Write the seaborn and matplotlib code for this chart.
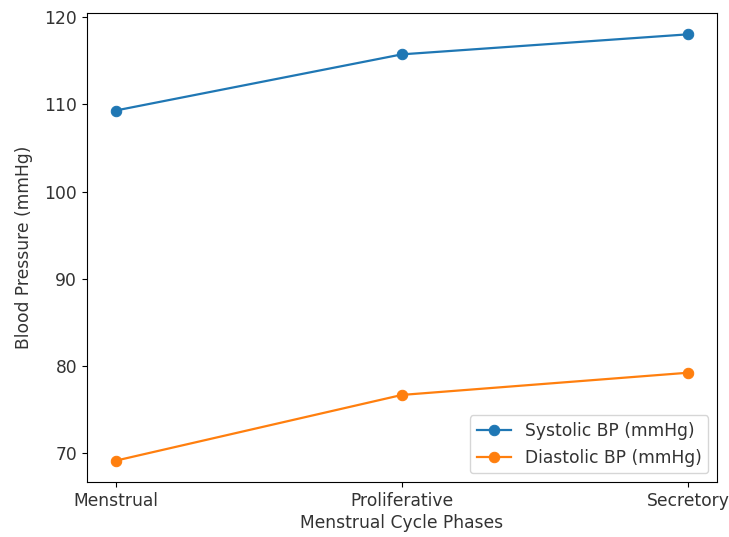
import numpy as np
import pandas as pd
import matplotlib
matplotlib.use("Agg")
import matplotlib.pyplot as plt
import seaborn as sns

# blood pressure across cycle phases
phases = ["Menstrual", "Proliferative", "Secretory"]
systolic = [109.3, 115.75, 118.05]
diastolic = [69.1, 76.65, 79.2]

df = pd.DataFrame({"Phase": phases, "Systolic BP (mmHg)": systolic, "Diastolic BP (mmHg)": diastolic})
long = df.melt(id_vars="Phase", var_name="Measure", value_name="BP")

fig = plt.figure(figsize=(7.29, 5.37), dpi=100)
ax = fig.add_axes([0.1193, 0.1024, 0.864, 0.8734])
for col, c in zip(["Systolic BP (mmHg)", "Diastolic BP (mmHg)"], ["#1f77b4", "#ff7f0e"]):
    sub = long[long["Measure"] == col]
    sns.lineplot(data=sub, x="Phase", y="BP", marker="o", color=c, label=col,
                 markersize=7.5, markeredgecolor=c, linewidth=1.6, ax=ax, sort=False)

fs = 12.3
ax.set_xlabel("Menstrual Cycle Phases", fontsize=fs, color="#333333", labelpad=3)
ax.set_ylabel("Blood Pressure (mmHg)", fontsize=fs, color="#333333", labelpad=8)
ax.tick_params(labelsize=fs, labelcolor="#333333")
leg = ax.legend(loc="lower right", fontsize=fs)
for t in leg.get_texts():
    t.set_color("#333333")
fig.savefig("out.png", dpi=100)
